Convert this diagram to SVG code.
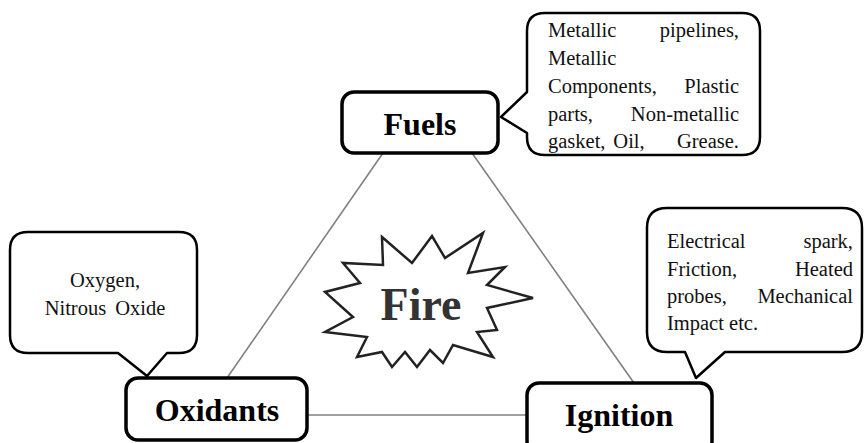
<svg xmlns="http://www.w3.org/2000/svg" width="865" height="443" viewBox="0 0 865 443">
<style>
.bg{fill:#fff}
.edge{stroke:#808080;stroke-width:1.6;fill:none}
.box{fill:#fff;stroke:#000;stroke-width:3.5}
.callout{fill:#fff;stroke:#000;stroke-width:2.5;stroke-linejoin:round}
.lbl{font-family:"Liberation Serif","Times New Roman",serif;font-weight:bold;font-size:32px;fill:#000;text-anchor:middle}
.ct{font-family:"Liberation Serif","Times New Roman",serif;font-size:20.5px;fill:#111}
.fire{fill:#fff;stroke:#222;stroke-width:2.5;stroke-linejoin:miter}
.firetxt{font-family:"Liberation Serif","Times New Roman",serif;font-weight:bold;font-size:46px;fill:#333;text-anchor:middle}
</style>
<rect class="bg" x="0" y="0" width="865" height="443"/>
<g id="connectors">
<line class="edge" x1="383" y1="153" x2="227" y2="378"/>
<line class="edge" x1="472" y1="153" x2="634" y2="383"/>
<line class="edge" x1="306" y1="415" x2="527" y2="415"/>
</g>
<g id="fire">
<polygon class="fire" points="382,237 412,263 432,236 445,258 483,233 468,273 505,267 487,285 533,298 487,308 497,330 477,332 493,357 453,345 443,363 430,350 417,367 405,352 392,367 382,352 357,357 367,337 325,332 353,317 325,292 360,283 343,263 383,265"/>
<text class="firetxt" x="421" y="320">Fire</text>
</g>
<g id="fuels">
<rect class="box" x="342" y="92" width="156" height="61" rx="12"/>
<text class="lbl" x="420" y="135">Fuels</text>
</g>
<g id="oxidants">
<rect class="box" x="126" y="378" width="181" height="62" rx="12"/>
<text class="lbl" x="217" y="421">Oxidants</text>
</g>
<g id="ignition">
<rect class="box" x="527" y="383" width="185" height="70" rx="12"/>
<text class="lbl" x="619" y="426">Ignition</text>
</g>
<g id="fuels-note">
<path class="callout" d="M545,13 H742 Q760,13 760,31 V137 Q760,155 742,155 H545 Q527,155 527,137 V133 L501,117 L527,92 V31 Q527,13 545,13 Z"/>
<text class="ct" y="37"><tspan x="548">Metallic</tspan><tspan x="739" text-anchor="end">pipelines,</tspan></text>
<text class="ct" x="548" y="65">Metallic</text>
<text class="ct" y="93"><tspan x="548">Components,</tspan><tspan x="739" text-anchor="end">Plastic</tspan></text>
<text class="ct" y="121"><tspan x="548">parts,</tspan><tspan x="739" text-anchor="end">Non-metallic</tspan></text>
<text class="ct" y="148"><tspan x="548">gasket,</tspan><tspan x="629" text-anchor="middle">Oil,</tspan><tspan x="739" text-anchor="end">Grease.</tspan></text>
</g>
<g id="oxidants-note">
<path class="callout" d="M28,232 H179 Q197,232 197,250 V335 Q197,353 179,353 H167 L147,376 L118,353 H28 Q10,353 10,335 V250 Q10,232 28,232 Z"/>
<text class="ct" x="105" y="287" text-anchor="middle">Oxygen,</text>
<text class="ct" x="105" y="315" text-anchor="middle" word-spacing="4">Nitrous Oxide</text>
</g>
<g id="ignition-note">
<path class="callout" d="M667,208 H842 Q862,208 862,228 V332 Q862,352 842,352 H725 L696,378 L685,352 H667 Q647,352 647,332 V228 Q647,208 667,208 Z"/>
<text class="ct" y="248"><tspan x="667">Electrical</tspan><tspan x="853" text-anchor="end">spark,</tspan></text>
<text class="ct" y="276"><tspan x="667">Friction,</tspan><tspan x="853" text-anchor="end">Heated</tspan></text>
<text class="ct" y="303"><tspan x="667">probes,</tspan><tspan x="853" text-anchor="end">Mechanical</tspan></text>
<text class="ct" x="667" y="330">Impact etc.</text>
</g>
</svg>
